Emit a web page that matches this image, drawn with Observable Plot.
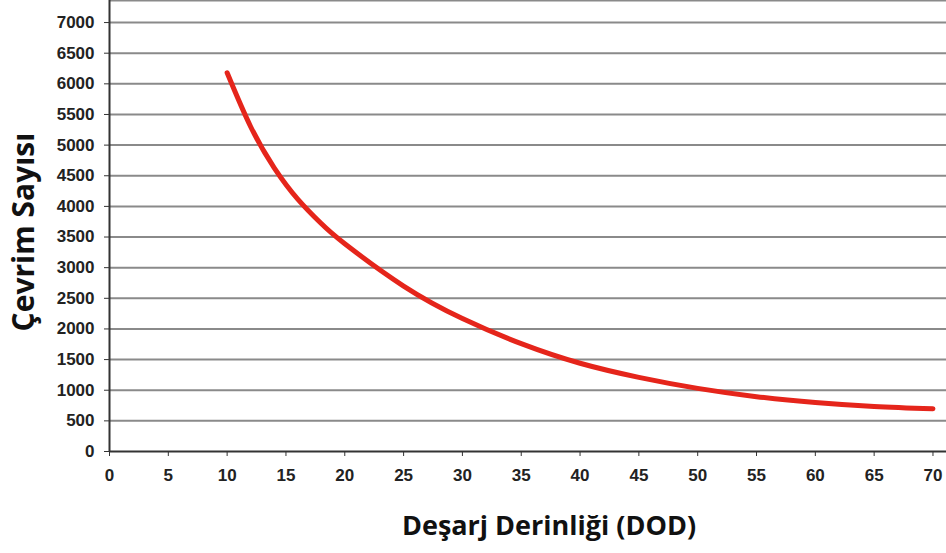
<!DOCTYPE html>
<html>
<head>
<meta charset="utf-8">
<script src="https://cdn.jsdelivr.net/npm/d3@7"></script>
<script src="https://cdn.jsdelivr.net/npm/@observablehq/plot@0.6"></script>
<style>
  html, body { margin: 0; padding: 0; background: #fff; }
  #chart svg { display: block; }
</style>
</head>
<body>
<div id="chart"></div>
<script>
// Depth of discharge (%) and cycle count
const dod    = [10,   12,   14,   16,   18,   20,   25,   30,   35,   40,   45,   50,   55,  60,  65,  70];
const cycles = [6180, 5300, 4630, 4120, 3720, 3390, 2700, 2170, 1760, 1440, 1210, 1030, 895, 800, 735, 697];

const xTicks = [0, 5, 10, 15, 20, 25, 30, 35, 40, 45, 50, 55, 60, 65, 70];
const yTicks = [0, 500, 1000, 1500, 2000, 2500, 3000, 3500, 4000, 4500, 5000, 5500, 6000, 6500, 7000];
const xTitle = "Deşarj Derinliği (DOD)";
const yTitle = "Çevrim Sayısı";

const data = dod.map((d, i) => ({dod: d, cycles: cycles[i]}));

const tickFont = "'Liberation Sans', Arial, sans-serif";
const titleFont = "'Open Sans', 'DejaVu Sans', sans-serif";

const chart = Plot.plot({
  width: 946,
  height: 553,
  marginLeft: 109,
  marginRight: 0,
  marginTop: 0,
  marginBottom: 102,
  style: {background: "#fff", color: "#222"},
  x: {domain: [0, 71.15]},
  y: {domain: [0, 7360]},
  marks: [
    Plot.gridY(yTicks.filter(v => v > 0).concat([7360]), {stroke: "#8a8a8a", strokeOpacity: 1, strokeWidth: 2}),
    Plot.line(data, {x: "dod", y: "cycles", stroke: "#e5251b", strokeWidth: 5, curve: "natural", strokeLinecap: "round"}),
    Plot.ruleX([0], {stroke: "#333", strokeWidth: 2}),
    Plot.ruleY([0], {stroke: "#333", strokeWidth: 2}),
    Plot.axisY({ticks: yTicks, tickFormat: d => String(d), tickSize: 5, tickPadding: 10, stroke: "#333", fontSize: 17, fontWeight: "bold", fontFamily: tickFont, label: null}),
    Plot.axisX({ticks: xTicks, tickFormat: d => String(d), tickSize: 5, tickPadding: 12, stroke: "#333", fontSize: 17, fontWeight: "bold", fontFamily: tickFont, label: null}),
    Plot.text([xTitle], {frameAnchor: "bottom", textAnchor: "middle", dx: 21, dy: 75, lineAnchor: "middle", fontSize: 27, fontWeight: 700, fontFamily: titleFont, fill: "#111"}),
    Plot.text([yTitle], {frameAnchor: "left", textAnchor: "middle", rotate: -90, dx: -85, dy: 6, lineAnchor: "middle", fontSize: 30, fontWeight: 700, fontFamily: titleFont, fill: "#111"})
  ]
});
document.getElementById("chart").appendChild(chart);
</script>
</body>
</html>
